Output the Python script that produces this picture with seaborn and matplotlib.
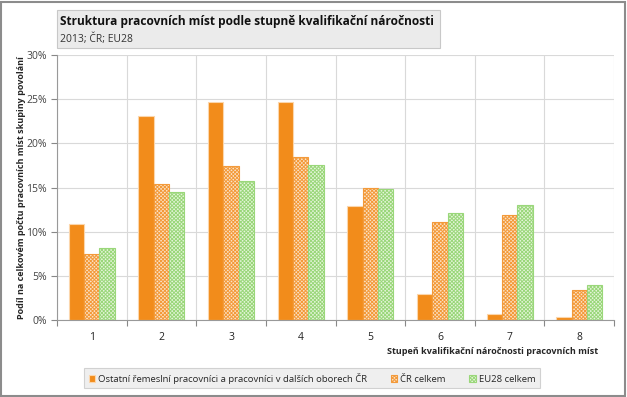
import matplotlib
matplotlib.use("Agg")
import matplotlib.pyplot as plt
import seaborn as sns
import pandas as pd
from matplotlib.patches import Rectangle
from matplotlib.ticker import FuncFormatter, MultipleLocator, FixedLocator

categories = ["1", "2", "3", "4", "5", "6", "7", "8"]
series_names = ["Ostatní řemeslní pracovníci a pracovníci v dalších oborech ČR", "ČR celkem", "EU28 celkem"]
ostatni = [10.9, 23.1, 24.7, 24.7, 12.9, 3.0, 0.7, 0.3]
cr_celkem = [7.5, 15.4, 17.4, 18.5, 14.95, 11.1, 11.9, 3.4]
eu28_celkem = [8.15, 14.5, 15.7, 17.6, 14.8, 12.1, 13.0, 4.0]

rows = []
for name, vals in zip(series_names, [ostatni, cr_celkem, eu28_celkem]):
    for c, v in zip(categories, vals):
        rows.append({"cat": c, "series": name, "val": v})
df = pd.DataFrame(rows)

sns.set_theme(style="white")
plt.rcParams['font.family'] = ['Open Sans', 'DejaVu Sans']
plt.rcParams['hatch.linewidth'] = 0.7

fig = plt.figure(figsize=(6.27, 3.97), dpi=100)
ax = fig.add_axes([57/627, 1-320/397, (614-57)/627, (320-55)/397])

orange = "#f28c1b"
green = "#8fd16a"
palette = {series_names[0]: orange, series_names[1]: orange, series_names[2]: green}
sns.barplot(data=df, x="cat", y="val", hue="series", palette=palette, width=0.66,
            ax=ax, legend=False, saturation=1, order=categories, hue_order=series_names)

styles = [
    dict(face=orange, edge="#fbd6ac", hatch=None),
    dict(face="#fbe3c8", edge="#f39a3a", hatch="xxxxxxxxx"),
    dict(face="#e6f5dc", edge="#9ad77a", hatch="xxxxxxxxx"),
]
for cont, st in zip(ax.containers, styles):
    for p in cont.patches:
        p.set_facecolor(st["face"])
        p.set_edgecolor(st["edge"])
        p.set_linewidth(0.8)
        if st["hatch"]:
            p.set_hatch(st["hatch"])

ax.set_ylim(0, 30)
ax.set_xlim(-0.5, 7.5)
ax.yaxis.set_major_locator(MultipleLocator(5))
ax.yaxis.set_major_formatter(FuncFormatter(lambda v, p: f"{int(v)}%"))
ax.xaxis.set_minor_locator(FixedLocator([i - 0.5 for i in range(9)]))
ax.tick_params(axis="x", which="major", length=0, labelsize=7.5, pad=9, colors="#222222")
ax.tick_params(axis="x", which="minor", length=4, width=0.8, color="#888888", direction="out", bottom=True)
ax.tick_params(axis="y", which="major", length=4, width=0.8, color="#888888", labelsize=7.5, left=True)
for lab in ax.get_yticklabels():
    lab.set_color("#444444")
ax.grid(True, axis="y", color="#d9d9d9", linewidth=0.8)
ax.grid(True, axis="x", which="minor", color="#d9d9d9", linewidth=0.8)
ax.grid(False, axis="x", which="major")
ax.set_axisbelow(True)
for s in ["top", "right"]:
    ax.spines[s].set_visible(False)
ax.spines["left"].set_color("#999999")
ax.spines["bottom"].set_color("#999999")
ax.spines["left"].set_linewidth(0.8)
ax.spines["bottom"].set_linewidth(0.8)

ax.set_ylabel("Podíl na celkovém počtu pracovních míst skupiny povolání", fontsize=6.5,
              fontweight="bold", labelpad=6)
ax.yaxis.set_label_coords(-0.055, 0.5)
ax.set_xlabel("")
fig.text(598/627, 1-352/397, "Stupeň kvalifikační náročnosti pracovních míst", ha="right", va="center",
         fontsize=6.5, fontweight="bold")

# title box
fig.patches.append(Rectangle((57/627, 1-48/397), (440-57)/627, 38/397, transform=fig.transFigure,
                             facecolor="#ebebeb", edgecolor="#c8c8c8", linewidth=0.8, zorder=0))
fig.text(60/627, 1-21/397, "Struktura pracovních míst podle stupně kvalifikační náročnosti",
         ha="left", va="center", fontsize=8.6, fontweight="bold", color="#111111")
fig.text(60/627, 1-39/397, "2013; ČR; EU28", ha="left", va="center", fontsize=7.5, color="#333333")

# outer frame
fig.patches.append(Rectangle((0.002, 0.003), 0.995, 0.993, transform=fig.transFigure,
                             facecolor="none", edgecolor="#8c8c8c", linewidth=1.5))

handles = [Rectangle((0, 0), 1, 1, facecolor=st["face"], edgecolor=st["edge"], hatch=st["hatch"], linewidth=0.8)
           for st in styles]
leg = fig.legend(handles, series_names, loc="center", bbox_to_anchor=(312/627, 1-378/397), ncol=3,
                 fontsize=6.8, frameon=True, fancybox=False, handlelength=0.7, handleheight=0.7,
                 handletextpad=0.3, columnspacing=2.5, borderpad=0.5)
leg.get_frame().set_facecolor("#ebebeb")
leg.get_frame().set_edgecolor("#c8c8c8")
leg.get_frame().set_linewidth(0.8)

fig.savefig("out.png", dpi=100)
